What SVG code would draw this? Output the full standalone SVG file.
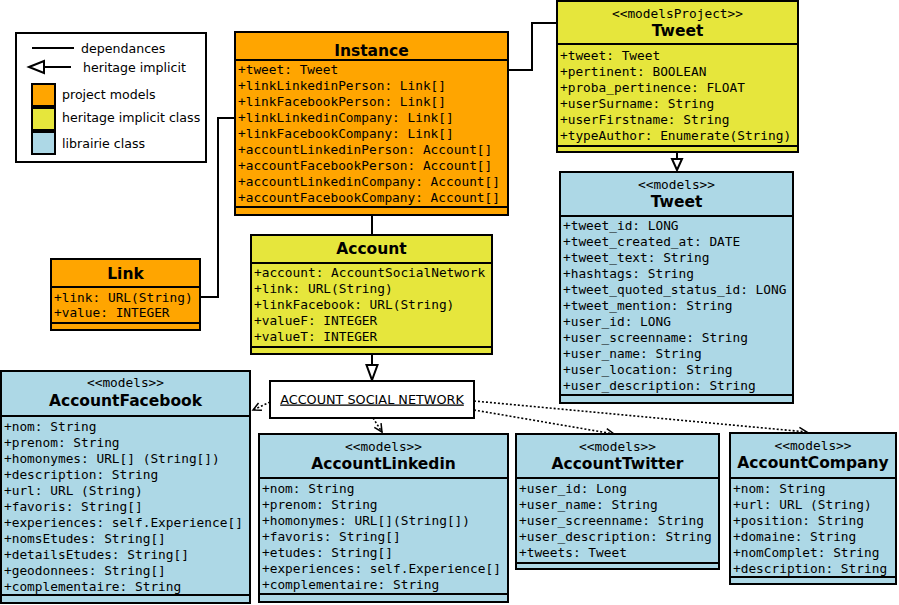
<svg xmlns="http://www.w3.org/2000/svg" width="899" height="605" viewBox="0 0 899 605">
<style>
.box{stroke:#000;stroke-width:2}
.org{fill:#FFA500}
.yel{fill:#E6E63C}
.blu{fill:#ADD8E6}
.div{stroke:#000;stroke-width:2}
.t{font-family:"DejaVu Sans Mono","Liberation Mono",monospace;font-size:12.8px;fill:#000}
.st{font-family:"DejaVu Sans Mono","Liberation Mono",monospace;font-size:12.8px;fill:#000;text-anchor:middle}
.h{font-family:"DejaVu Sans","Liberation Sans",sans-serif;font-size:15.5px;font-weight:bold;fill:#000;text-anchor:middle}
.lg{font-family:"DejaVu Sans","Liberation Sans",sans-serif;font-size:12.6px;fill:#000}
.asn{font-family:"DejaVu Sans","Liberation Sans",sans-serif;font-size:12.8px;fill:#000;text-anchor:middle;text-decoration:underline}
.c{fill:none;stroke:#000;stroke-width:2}
.d{fill:none;stroke:#000;stroke-width:1.6;stroke-dasharray:2,2}
.tri{fill:#fff;stroke:#000;stroke-width:2}
</style>
<defs>
<marker id="v" markerUnits="userSpaceOnUse" markerWidth="12" markerHeight="12" refX="9" refY="5" orient="auto">
<path d="M1,1 L9,5 L1,9" fill="none" stroke="#000" stroke-width="1.5"/>
</marker>
</defs>
<rect width="899" height="605" fill="#fff"/>

<g id="legend">
<rect x="16" y="33" width="190" height="129" fill="#fff" stroke="#000" stroke-width="2"/>
<line x1="32" y1="48" x2="74" y2="48" stroke="#000" stroke-width="2"/>
<text class="lg" x="81" y="52.5">dependances</text>
<line x1="43" y1="67" x2="71" y2="67" stroke="#000" stroke-width="2"/>
<polygon points="29,67 44,61 44,73" class="tri"/>
<text class="lg" x="83" y="71.5">heritage implicit</text>
<rect x="32" y="84" width="23" height="22" class="box org"/>
<text class="lg" x="62" y="98.5">project models</text>
<rect x="32" y="108" width="23" height="22" class="box yel"/>
<text class="lg" x="62" y="121.5">heritage implicit class</text>
<rect x="32" y="132" width="23" height="22" class="box blu"/>
<text class="lg" x="62" y="147.5">librairie class</text>
</g>

<g id="connectors">
<polyline class="c" points="508,70 532,70 532,23 557,23"/>
<polyline class="c" points="200,297 218,297 218,118 235,118"/>
<line class="c" x1="372" y1="215" x2="372" y2="235"/>
<line class="c" x1="677" y1="152" x2="677" y2="159"/>
<polygon class="tri" points="672,159 682,159 677,170"/>
<line class="c" x1="372" y1="354" x2="372" y2="365"/>
<polygon class="tri" points="366.5,365 377.5,365 372,380"/>
<line class="d" x1="270" y1="402" x2="253" y2="410" marker-end="url(#v)"/>
<line class="d" x1="373" y1="418" x2="382" y2="432" marker-end="url(#v)"/>
<line class="d" x1="474" y1="410" x2="614" y2="434" marker-end="url(#v)"/>
<line class="d" x1="474" y1="401" x2="807" y2="432" marker-end="url(#v)"/>
</g>

<g id="instance">
<rect x="235" y="32" width="273" height="183" class="box org"/>
<line class="div" x1="235" y1="60" x2="508" y2="60"/>
<line class="div" x1="235" y1="207" x2="508" y2="207"/>
<text class="h" x="371.5" y="55.5">Instance</text>
<text class="t" x="238" y="74">+tweet: Tweet</text>
<text class="t" x="238" y="90">+linkLinkedinPerson: Link[]</text>
<text class="t" x="238" y="106">+linkFacebookPerson: Link[]</text>
<text class="t" x="238" y="122">+linkLinkedinCompany: Link[]</text>
<text class="t" x="238" y="138">+linkFacebookCompany: Link[]</text>
<text class="t" x="238" y="154">+accountLinkedinPerson: Account[]</text>
<text class="t" x="238" y="170">+accountFacebookPerson: Account[]</text>
<text class="t" x="238" y="186">+accountLinkedinCompany: Account[]</text>
<text class="t" x="238" y="202">+accountFacebookCompany: Account[]</text>
</g>

<g id="tweetProject">
<rect x="557" y="1" width="241" height="151" class="box yel"/>
<line class="div" x1="557" y1="44" x2="798" y2="44"/>
<line class="div" x1="557" y1="146" x2="798" y2="146"/>
<text class="st" x="677.5" y="17.5">&lt;&lt;modelsProject&gt;&gt;</text>
<text class="h" x="677.5" y="35.5">Tweet</text>
<text class="t" x="560" y="59.5">+tweet: Tweet</text>
<text class="t" x="560" y="75.5">+pertinent: BOOLEAN</text>
<text class="t" x="560" y="91.5">+proba_pertinence: FLOAT</text>
<text class="t" x="560" y="107.5">+userSurname: String</text>
<text class="t" x="560" y="123.5">+userFirstname: String</text>
<text class="t" x="560" y="139.5">+typeAuthor: Enumerate(String)</text>
</g>

<g id="tweetModels">
<rect x="560" y="172" width="233" height="231" class="box blu"/>
<line class="div" x1="560" y1="216" x2="793" y2="216"/>
<line class="div" x1="560" y1="395" x2="793" y2="395"/>
<text class="st" x="676.5" y="188.5">&lt;&lt;models&gt;&gt;</text>
<text class="h" x="676.5" y="206.5">Tweet</text>
<text class="t" x="563" y="229.5">+tweet_id: LONG</text>
<text class="t" x="563" y="245.5">+tweet_created_at: DATE</text>
<text class="t" x="563" y="261.5">+tweet_text: String</text>
<text class="t" x="563" y="277.5">+hashtags: String</text>
<text class="t" x="563" y="293.5">+tweet_quoted_status_id: LONG</text>
<text class="t" x="563" y="309.5">+tweet_mention: String</text>
<text class="t" x="563" y="325.5">+user_id: LONG</text>
<text class="t" x="563" y="341.5">+user_screenname: String</text>
<text class="t" x="563" y="357.5">+user_name: String</text>
<text class="t" x="563" y="373.5">+user_location: String</text>
<text class="t" x="563" y="389.5">+user_description: String</text>
</g>

<g id="link">
<rect x="51" y="259" width="149" height="71" class="box org"/>
<line class="div" x1="51" y1="287" x2="200" y2="287"/>
<line class="div" x1="51" y1="323" x2="200" y2="323"/>
<text class="h" x="125.5" y="278.5">Link</text>
<text class="t" x="54" y="301.5">+link: URL(String)</text>
<text class="t" x="54" y="316.5">+value: INTEGER</text>
</g>

<g id="account">
<rect x="251" y="235" width="241" height="119" class="box yel"/>
<line class="div" x1="251" y1="263" x2="492" y2="263"/>
<line class="div" x1="251" y1="347" x2="492" y2="347"/>
<text class="h" x="371.5" y="253.5">Account</text>
<text class="t" x="254" y="276.5">+account: AccountSocialNetwork</text>
<text class="t" x="254" y="292.5">+link: URL(String)</text>
<text class="t" x="254" y="308.5">+linkFacebook: URL(String)</text>
<text class="t" x="254" y="324.5">+valueF: INTEGER</text>
<text class="t" x="254" y="340.5">+valueT: INTEGER</text>
</g>

<g id="accountSocialNetwork">
<rect x="270" y="381" width="204" height="37" fill="#fff" stroke="#000" stroke-width="2"/>
<text class="asn" x="372" y="403.5">ACCOUNT SOCIAL NETWORK</text>
</g>

<g id="accountFacebook">
<rect x="1" y="371" width="249" height="232" class="box blu"/>
<line class="div" x1="1" y1="416" x2="250" y2="416"/>
<line class="div" x1="1" y1="595" x2="250" y2="595"/>
<text class="st" x="125.5" y="386.5">&lt;&lt;models&gt;&gt;</text>
<text class="h" x="125.5" y="405.5">AccountFacebook</text>
<text class="t" x="4" y="430.5">+nom: String</text>
<text class="t" x="4" y="446.5">+prenom: String</text>
<text class="t" x="4" y="462.5">+homonymes: URL[] (String[])</text>
<text class="t" x="4" y="478.5">+description: String</text>
<text class="t" x="4" y="494.5">+url: URL (String)</text>
<text class="t" x="4" y="510.5">+favoris: String[]</text>
<text class="t" x="4" y="526.5">+experiences: self.Experience[]</text>
<text class="t" x="4" y="542.5">+nomsEtudes: String[]</text>
<text class="t" x="4" y="558.5">+detailsEtudes: String[]</text>
<text class="t" x="4" y="574.5">+geodonnees: String[]</text>
<text class="t" x="4" y="590.5">+complementaire: String</text>
</g>

<g id="accountLinkedin">
<rect x="259" y="434" width="249" height="168" class="box blu"/>
<line class="div" x1="259" y1="478" x2="508" y2="478"/>
<line class="div" x1="259" y1="594" x2="508" y2="594"/>
<text class="st" x="383.5" y="450.5">&lt;&lt;models&gt;&gt;</text>
<text class="h" x="383.5" y="468.5">AccountLinkedin</text>
<text class="t" x="262" y="492.5">+nom: String</text>
<text class="t" x="262" y="508.5">+prenom: String</text>
<text class="t" x="262" y="524.5">+homonymes: URL[](String[])</text>
<text class="t" x="262" y="540.5">+favoris: String[]</text>
<text class="t" x="262" y="556.5">+etudes: String[]</text>
<text class="t" x="262" y="572.5">+experiences: self.Experience[]</text>
<text class="t" x="262" y="588.5">+complementaire: String</text>
</g>

<g id="accountTwitter">
<rect x="516" y="434" width="203" height="135" class="box blu"/>
<line class="div" x1="516" y1="478" x2="719" y2="478"/>
<line class="div" x1="516" y1="563" x2="719" y2="563"/>
<text class="st" x="617.5" y="450.5">&lt;&lt;models&gt;&gt;</text>
<text class="h" x="617.5" y="468.5">AccountTwitter</text>
<text class="t" x="519" y="492.5">+user_id: Long</text>
<text class="t" x="519" y="508.5">+user_name: String</text>
<text class="t" x="519" y="524.5">+user_screenname: String</text>
<text class="t" x="519" y="540.5">+user_description: String</text>
<text class="t" x="519" y="556.5">+tweets: Tweet</text>
</g>

<g id="accountCompany">
<rect x="730" y="433" width="166" height="151" class="box blu"/>
<line class="div" x1="730" y1="478" x2="896" y2="478"/>
<line class="div" x1="730" y1="577" x2="896" y2="577"/>
<text class="st" x="813" y="449.5">&lt;&lt;models&gt;&gt;</text>
<text class="h" x="813" y="467.5">AccountCompany</text>
<text class="t" x="733" y="492.5">+nom: String</text>
<text class="t" x="733" y="508.5">+url: URL (String)</text>
<text class="t" x="733" y="524.5">+position: String</text>
<text class="t" x="733" y="540.5">+domaine: String</text>
<text class="t" x="733" y="556.5">+nomComplet: String</text>
<text class="t" x="733" y="572.5">+description: String</text>
</g>
</svg>
